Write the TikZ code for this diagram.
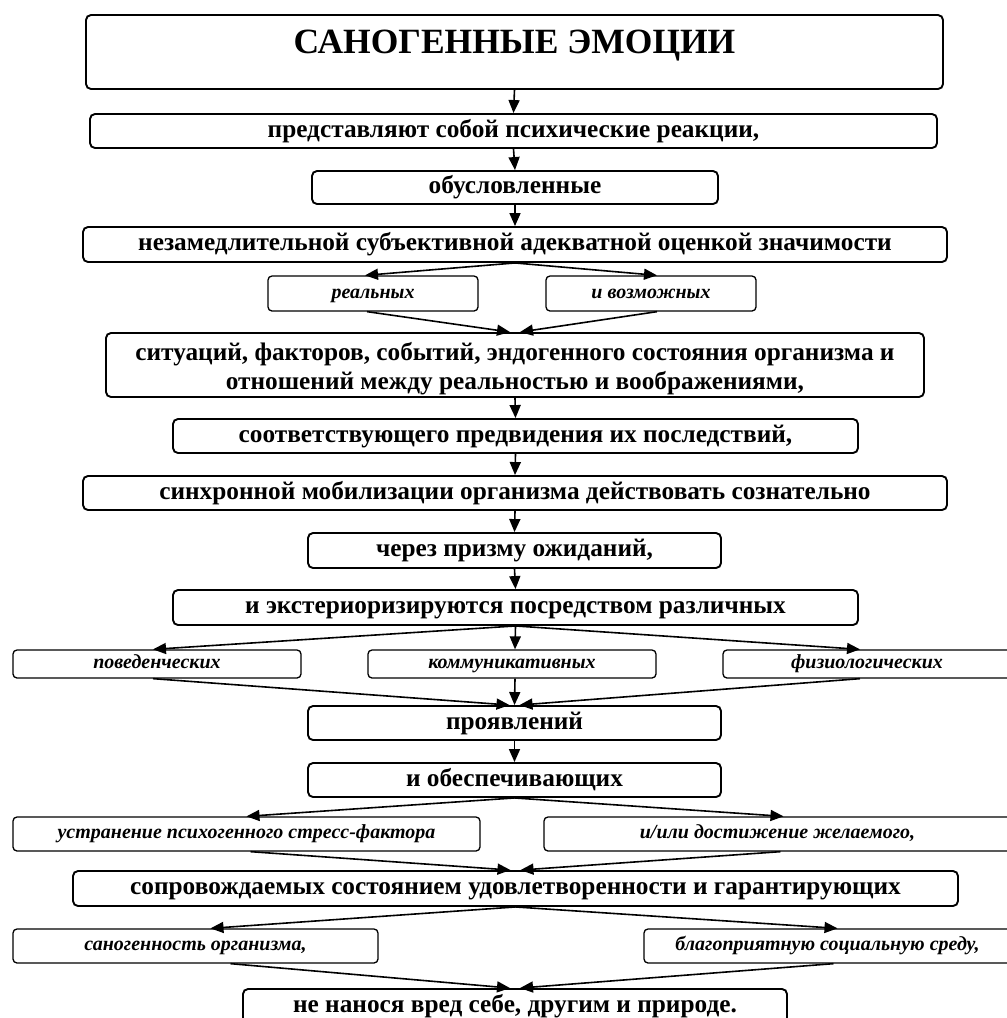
\documentclass[tikz,border=0pt]{standalone}
\usepackage{fontspec}
\setmainfont{Liberation Serif}
\usetikzlibrary{arrows.meta,positioning}

\tikzset{
  mainbox/.style={draw, line width=1.9pt, rounded corners=5pt, inner sep=0pt,
    text height=17pt, text depth=5pt,
    font=\fontsize{25.3}{29}\selectfont\bfseries, align=center},
  subbox/.style={draw, line width=1.3pt, rounded corners=4pt, inner sep=0pt,
    text height=14pt, text depth=5pt,
    font=\fontsize{20}{23}\selectfont\bfseries\itshape, align=center},
  arr/.style={line width=1.6pt, -{Triangle[length=13pt,width=11pt]}}
}

\begin{document}
\begin{tikzpicture}[x=1pt,y=-1pt]
	\useasboundingbox (0,0) rectangle (1007,1018);
	\clip (0,0) rectangle (1007,1018);

	% main chain
	\node[mainbox, minimum width=857pt, text height=38pt, text depth=36pt,
		font=\fontsize{35.5}{40}\selectfont\bfseries] (title) at (514.5,52) {САНОГЕННЫЕ ЭМОЦИИ};
	\node[mainbox, minimum width=847pt, minimum height=34pt] (react) at (513.5,131) {представляют собой психические реакции,};
	\node[mainbox, minimum width=406pt, minimum height=33pt] (cond) at (515,187.5) {обусловленные};
	\node[mainbox, minimum width=864pt, minimum height=35pt] (eval) at (515,244.5) {незамедлительной субъективной адекватной оценкой значимости};
	\node[subbox, minimum width=210pt, minimum height=35pt] (real) at (373,293.5) {реальных};
	\node[subbox, minimum width=210pt, minimum height=35pt] (poss) at (651,293.5) {и возможных};
	\node[mainbox, minimum width=818pt, minimum height=64pt, text height=50pt, text depth=2pt] (sit) at (515,365)
		{ситуаций, факторов, событий, эндогенного состояния организма и\\отношений между реальностью и воображениями,};
	\node[mainbox, minimum width=685pt, minimum height=34pt] (fore) at (515.5,436) {соответствующего предвидения их последствий,};
	\node[mainbox, minimum width=864pt, minimum height=34pt] (mobil) at (515,493) {синхронной мобилизации организма действовать сознательно};
	\node[mainbox, minimum width=413pt, minimum height=35pt] (prism) at (514.5,550.5) {через призму ожиданий,};
	\node[mainbox, minimum width=685pt, minimum height=35pt] (ext) at (515.5,607.5) {и экстериоризируются посредством различных};
	\node[subbox, minimum width=288pt, minimum height=28pt] (beh) at (157,664) {поведенческих};
	\node[subbox, minimum width=288pt, minimum height=28pt] (comm) at (512,664) {коммуникативных};
	\node[subbox, minimum width=288pt, minimum height=28pt] (phys) at (867,664) {физиологических};
	\node[mainbox, minimum width=413pt, minimum height=34pt] (manif) at (514.5,723) {проявлений};
	\node[mainbox, minimum width=413pt, minimum height=34pt] (prov) at (514.5,780) {и обеспечивающих};
	\node[subbox, minimum width=467pt, minimum height=34pt] (elim) at (246.5,834) {устранение психогенного стресс-фактора};
	\node[subbox, minimum width=467pt, minimum height=34pt] (goal) at (777.5,834) {и/или достижение желаемого,};
	\node[mainbox, minimum width=885pt, minimum height=35pt] (satis) at (515.5,888.5) {сопровождаемых состоянием удовлетворенности и гарантирующих};
	\node[subbox, minimum width=365pt, minimum height=34pt] (sano) at (195.5,946) {саногенность организма,};
	\node[subbox, minimum width=367pt, minimum height=34pt] (env) at (827.5,946) {благоприятную социальную среду,};
	\node[mainbox, minimum width=544pt, minimum height=34pt] (harm) at (515,1006) {не нанося вред себе, другим и природе.};

	% connectors
	\draw[arr] (title.south) -- (react.north);
	\draw[arr] (react.south) -- (cond.north);
	\draw[arr] (cond.south) -- (eval.north);
	\draw[arr] (eval.south) -- ([xshift=-8pt]real.north);
	\draw[arr] (eval.south) -- ([xshift=6pt]poss.north);
	\draw[arr] ([xshift=-6pt]real.south) -- ([xshift=-5pt]sit.north);
	\draw[arr] ([xshift=6pt]poss.south) -- ([xshift=5pt]sit.north);
	\draw[arr] (sit.south) -- (fore.north);
	\draw[arr] (fore.south) -- (mobil.north);
	\draw[arr] (mobil.south) -- (prism.north);
	\draw[arr] (prism.south) -- (ext.north);
	\draw[arr] (ext.south) -- ([xshift=-4pt]beh.north);
	\draw[arr] (ext.south) -- ([xshift=3pt]comm.north);
	\draw[arr] (ext.south) -- ([xshift=-7pt]phys.north);
	\draw[arr] ([xshift=-4pt]beh.south) -- ([xshift=-5pt]manif.north);
	\draw[arr] ([xshift=3pt]comm.south) -- (manif.north);
	\draw[arr] ([xshift=-7pt]phys.south) -- ([xshift=5pt]manif.north);
	\draw[arr] (manif.south) -- (prov.north);
	\draw[arr] (prov.south) -- (elim.north);
	\draw[arr] (prov.south) -- ([xshift=6pt]goal.north);
	\draw[arr] ([xshift=4pt]elim.south) -- ([xshift=-5pt]satis.north);
	\draw[arr] ([xshift=3pt]goal.south) -- ([xshift=5pt]satis.north);
	\draw[arr] (satis.south) -- ([xshift=15pt]sano.north);
	\draw[arr] (satis.south) -- ([xshift=10pt]env.north);
	\draw[arr] ([xshift=35pt]sano.south) -- ([xshift=-5pt]harm.north);
	\draw[arr] ([xshift=6pt]env.south) -- ([xshift=5pt]harm.north);
\end{tikzpicture}
\end{document}
